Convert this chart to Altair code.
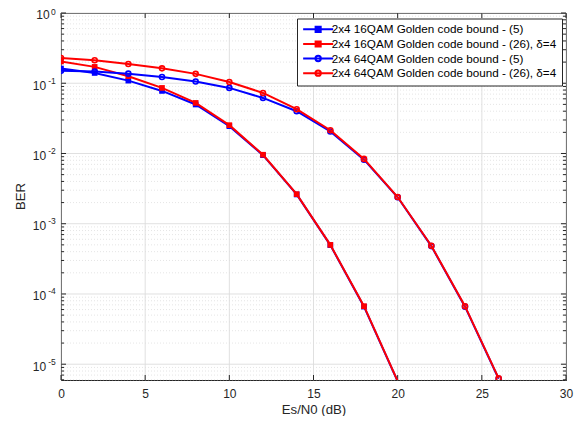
import altair as alt
import pandas as pd

# ---------------- data ----------------
snr_16 = [0, 2, 4, 6, 8, 10, 12, 14, 16, 18, 20]
ber_16_eq5 = [0.162, 0.140, 0.109, 0.0777, 0.0498, 0.0245, 0.00946, 0.00261, 4.96e-4, 6.6e-5, 5.7e-6]
ber_16_eq26 = [0.204, 0.171, 0.126, 0.0858, 0.0525, 0.0253, 0.0096, 0.00264, 5.0e-4, 6.7e-5, 5.75e-6]

snr_64 = [0, 2, 4, 6, 8, 10, 12, 14, 16, 18, 20, 22, 24, 26]
ber_64_eq5 = [0.150, 0.147, 0.137, 0.123, 0.106, 0.0858, 0.0618, 0.040, 0.0206, 0.00816, 0.00238, 4.8e-4, 6.6e-5, 6.2e-6]
ber_64_eq26 = [0.229, 0.212, 0.188, 0.163, 0.136, 0.104, 0.0728, 0.0427, 0.0214, 0.00838, 0.0024, 4.85e-4, 6.7e-5, 6.3e-6]

labels = [
    "2x4 16QAM Golden code bound - (5)",
    "2x4 16QAM Golden code bound - (26), δ=4",
    "2x4 64QAM Golden code bound - (5)",
    "2x4 64QAM Golden code bound - (26), δ=4",
]
colors = ["#0000ff", "#ff0000", "#0000ff", "#ff0000"]
markers = ["square", "square", "circle", "circle"]

x_major = [0, 5, 10, 15, 20, 25, 30]
y_major = [1, 1e-1, 1e-2, 1e-3, 1e-4, 1e-5]
y_exp = ["0", "-1", "-2", "-3", "-4", "-5"]
Y_MIN = 5.96e-6
y_minor = [m * 10.0 ** k for k in range(-6, 0) for m in range(2, 10) if m * 10.0 ** k >= Y_MIN]

# ---------------- layout / style ----------------
W, H = 505, 367
FONT = "Liberation Sans"
TXT = "#262626"
GRID = "#dcdcdc"
MINOR = "#dedede"

series_x = [snr_16, snr_16, snr_64, snr_64]
series_y = [ber_16_eq5, ber_16_eq26, ber_64_eq5, ber_64_eq26]
rows = []
for lab, xs, ys in zip(labels, series_x, series_y):
    for a, b in zip(xs, ys):
        rows.append({"series": lab, "snr": a, "ber": b})
df = pd.DataFrame(rows)

xscale = alt.Scale(domain=[0, 30], nice=False, zero=False)
yscale = alt.Scale(type="log", domain=[Y_MIN, 1], nice=False)

xaxis = alt.Axis(values=x_major, grid=False, ticks=False, domainColor=TXT, domainWidth=1,
                 labelFont=FONT, labelFontSize=12, labelColor=TXT, labelPadding=8,
                 labelFlush=False, labelOverlap=False,
                 title="Es/N0 (dB)", titleFont=FONT, titleFontSize=13.2, titleFontWeight="normal",
                 titleColor=TXT, titlePadding=4)
yaxis = alt.Axis(labels=False, ticks=False, grid=False, domainColor=TXT, domainWidth=1, title=None)

X = alt.X("v:Q", scale=xscale, axis=xaxis)
Y = alt.Y("v:Q", scale=yscale, axis=yaxis)

df_xmaj = pd.DataFrame({"v": x_major})
df_ymaj = pd.DataFrame({"v": y_major, "exp": y_exp})
df_ymin = pd.DataFrame({"v": y_minor})

minor_grid = alt.Chart(df_ymin).mark_rule(color=MINOR, strokeDash=[1, 2], strokeWidth=0.8).encode(
    y=Y, x=alt.value(0), x2=alt.value(W))
major_grid_y = alt.Chart(df_ymaj).mark_rule(color=GRID, strokeWidth=0.9).encode(
    y=Y, x=alt.value(0), x2=alt.value(W))
major_grid_x = alt.Chart(df_xmaj).mark_rule(color=GRID, strokeWidth=0.9).encode(
    x=X, y=alt.value(0), y2=alt.value(H))

tick_style = dict(color=TXT, strokeWidth=1)
ticks = [
    alt.Chart(df_xmaj).mark_rule(**tick_style).encode(x=X, y=alt.value(H), y2=alt.value(H - 5)),
    alt.Chart(df_xmaj).mark_rule(**tick_style).encode(x=X, y=alt.value(0), y2=alt.value(5)),
    alt.Chart(df_ymaj).mark_rule(**tick_style).encode(y=Y, x=alt.value(0), x2=alt.value(5)),
    alt.Chart(df_ymaj).mark_rule(**tick_style).encode(y=Y, x=alt.value(W - 5), x2=alt.value(W)),
    alt.Chart(df_ymin).mark_rule(**tick_style).encode(y=Y, x=alt.value(0), x2=alt.value(3)),
    alt.Chart(df_ymin).mark_rule(**tick_style).encode(y=Y, x=alt.value(W - 3), x2=alt.value(W)),
]

ylab_base0 = alt.Chart(df_ymaj).transform_filter("datum.exp == '0'").mark_text(
    align="right", baseline="middle", dy=2.3, font=FONT, fontSize=12, color=TXT).encode(
    y=Y, x=alt.value(-11.3), text=alt.value("10"))
ylab_base = alt.Chart(df_ymaj).transform_filter("datum.exp != '0'").mark_text(
    align="right", baseline="middle", dy=2.3, font=FONT, fontSize=12, color=TXT).encode(
    y=Y, x=alt.value(-14.8), text=alt.value("10"))
ylab_exp0 = alt.Chart(df_ymaj).transform_filter("datum.exp == '0'").mark_text(
    align="right", baseline="middle", dy=-1.0, font=FONT, fontSize=8.5, color=TXT).encode(
    y=Y, x=alt.value(-5.3), text="exp:N")
ylab_exp = alt.Chart(df_ymaj).transform_filter("datum.exp != '0'").mark_text(
    align="right", baseline="middle", dy=-2.6, font=FONT, fontSize=8.5, color=TXT).encode(
    y=Y, x=alt.value(-5.3), text="exp:N")
ytitle = alt.Chart(pd.DataFrame({"t": ["BER"]})).mark_text(
    angle=270, align="center", baseline="middle", font=FONT, fontSize=13.2, color=TXT).encode(
    text="t:N", x=alt.value(-40), y=alt.value(H / 2))

DX = alt.X("snr:Q", scale=xscale, axis=xaxis)
DY = alt.Y("ber:Q", scale=yscale, axis=yaxis)

data_layers = []
for lab, col, mk in zip(labels, colors, markers):
    base = alt.Chart(df).transform_filter(alt.datum.series == lab)
    line = base.mark_line(color=col, strokeWidth=2, clip=True).encode(x=DX, y=DY)
    if mk == "square":
        pts = base.transform_filter(alt.datum.ber >= Y_MIN).mark_point(
            shape="square", filled=True, size=32, color=col, opacity=1, clip=True).encode(x=DX, y=DY)
    else:
        pts = base.transform_filter(alt.datum.ber >= Y_MIN).mark_point(
            shape="circle", filled=False, size=25, strokeWidth=1.6, color=col, opacity=1,
            clip=True).encode(x=DX, y=DY)
    data_layers += [line, pts]

sq_path = "M-5,0H5M-0.85,-0.85H0.85V0.85H-0.85Z"
ci_path = "M-5,0H5M0.9,0A0.9,0.9,0,1,1,-0.9,0A0.9,0.9,0,1,1,0.9,0Z"
leg = alt.Legend(title=None, orient="none", legendX=236, legendY=5.5, direction="vertical",
                 padding=5, fillColor="white", strokeColor=TXT, cornerRadius=0,
                 labelFont=FONT, labelFontSize=11.7, labelColor="black", labelLimit=400,
                 labelExpr="datum.label + '  '",
                 symbolOffset=10.3, labelOffset=7.7, rowPadding=0.6,
                 symbolSize=36, symbolStrokeWidth=2, symbolOpacity=1)
legend_layer = alt.Chart(df).transform_filter("false").mark_point(
    filled=True, opacity=1, size=36, strokeWidth=2).encode(
    x=DX, y=DY,
    stroke=alt.Stroke("series:N", scale=alt.Scale(domain=labels, range=colors), legend=leg),
    fill=alt.Fill("series:N", scale=alt.Scale(domain=labels, range=["#0000ff", "#ff0000", "white", "white"]), legend=leg),
    shape=alt.Shape("series:N", scale=alt.Scale(domain=labels, range=[sq_path, sq_path, ci_path, ci_path]), legend=leg),
)

chart = alt.layer(
    minor_grid, major_grid_y, major_grid_x, *ticks, *data_layers,
    ylab_base0, ylab_base, ylab_exp0, ylab_exp, ytitle, legend_layer,
).properties(
    width=W, height=H,
    autosize=alt.AutoSizeParams(type="none"),
    padding={"left": 53, "top": 5, "right": 9, "bottom": 36},
    background="white",
).configure_view(stroke=TXT, strokeWidth=1)

chart.save("out.html", embed_options={"renderer": "svg", "actions": False})
